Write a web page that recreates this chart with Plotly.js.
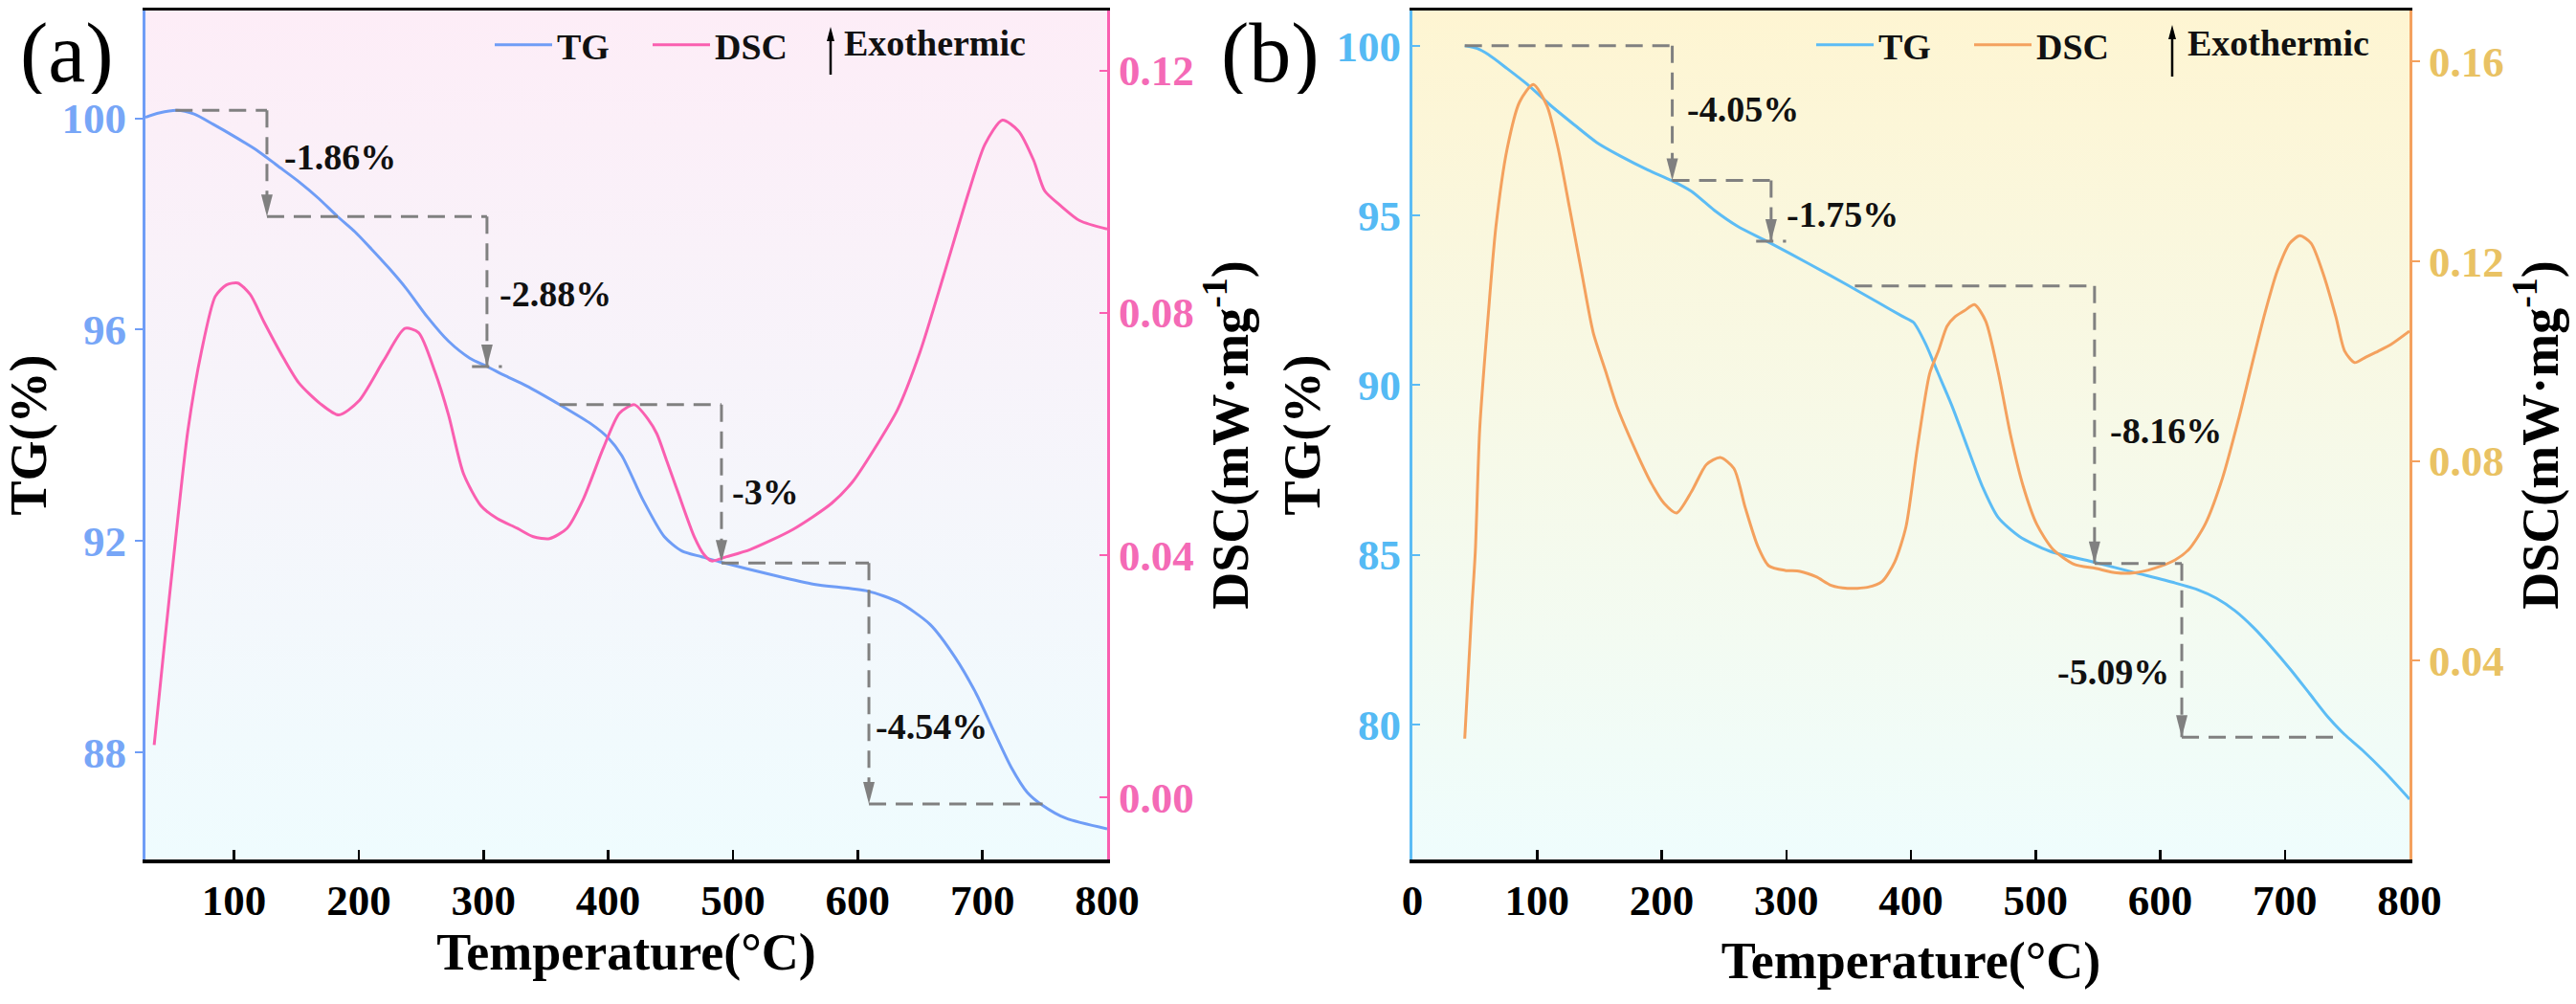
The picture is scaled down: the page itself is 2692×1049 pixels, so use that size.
<!DOCTYPE html>
<html>
<head>
<meta charset="utf-8">
<script src="https://cdn.plot.ly/plotly-3.0.1.min.js"></script>
<style>html,body{margin:0;padding:0;background:#fff;}</style>
</head>
<body>
<div id="chart" style="width:2692px;height:1049px;"></div>
<script>
// ---- panel (a) ----
var tgA_x = [29, 40, 54, 68, 83, 100, 118, 135, 152, 168, 183, 197, 210, 224, 238, 255, 272, 289, 303, 318, 334, 361, 386, 400, 411, 428, 445, 459, 475, 490, 531, 565, 608, 633, 658, 678, 695, 709, 723, 736, 748, 767, 800];
var tgA_y = [100.02, 100.10, 100.15, 100.08, 99.89, 99.66, 99.40, 99.10, 98.80, 98.48, 98.14, 97.85, 97.53, 97.17, 96.78, 96.24, 95.78, 95.46, 95.30, 95.12, 94.94, 94.58, 94.22, 93.95, 93.61, 92.77, 92.08, 91.81, 91.70, 91.60, 91.36, 91.18, 91.05, 90.84, 90.42, 89.80, 89.11, 88.41, 87.72, 87.24, 87.00, 86.75, 86.55];
var dscA_x = [36, 44, 53, 63, 74, 85, 94, 103, 113, 124, 140, 152, 169, 184, 200, 220, 237, 248, 261, 272, 284, 298, 311, 327, 340, 353, 367, 380, 396, 409, 421, 432, 439, 447, 456, 469, 477, 483, 495, 514, 548, 579, 596, 617, 632, 650, 669, 689, 702, 716, 729, 741, 750, 762, 778, 800];
var dscA_y = [0.0086, 0.0248, 0.0423, 0.0605, 0.0737, 0.0827, 0.0846, 0.0849, 0.0830, 0.0785, 0.0724, 0.0684, 0.0650, 0.0631, 0.0654, 0.0721, 0.0774, 0.0767, 0.0703, 0.0631, 0.0534, 0.0481, 0.0460, 0.0444, 0.0430, 0.0427, 0.0444, 0.0492, 0.0576, 0.0634, 0.0648, 0.0624, 0.0600, 0.0555, 0.0503, 0.0430, 0.0400, 0.0390, 0.0397, 0.0409, 0.0442, 0.0485, 0.0521, 0.0587, 0.0640, 0.0735, 0.0862, 0.0999, 0.1078, 0.1118, 0.1100, 0.1052, 0.1001, 0.0978, 0.0952, 0.0938];

// mass-loss steps (a): horizontal start, drop position, level before, level after
var stepA_from = [53, 126.4, 361, 490.8];
var stepA_drop = [126.4, 302.8, 490.8, 609];
var stepA_top = [100.15, 98.14, 94.58, 91.58];
var stepA_bot = [98.14, 95.30, 91.60, 87.02];
var stepA_endX = 748.3;
var stepA_text = ['-1.86%', '-2.88%', '-3%', '-4.54%'];
var stepA_tx = [139, 311, 498, 613];
var stepA_ty = [99.27, 96.67, 92.92, 88.48];

// ---- panel (b) ----
var tgB_x = [42, 52, 61, 76, 92, 111, 130, 148, 167, 189, 208, 224, 242, 261, 286, 318, 349, 374, 393, 402, 412, 421, 433, 443, 457, 470, 487, 511, 545, 579, 612, 630, 645, 660, 675, 690, 705, 720, 735, 748, 762, 780, 800];
var tgB_y = [100.0, 99.92, 99.74, 99.33, 98.87, 98.24, 97.67, 97.15, 96.75, 96.34, 96.03, 95.71, 95.16, 94.68, 94.21, 93.58, 92.95, 92.43, 92.03, 91.85, 91.20, 90.42, 89.38, 88.40, 87.04, 86.10, 85.54, 85.11, 84.80, 84.48, 84.17, 83.97, 83.72, 83.35, 82.85, 82.25, 81.60, 80.90, 80.20, 79.70, 79.25, 78.60, 77.80];
var dscB_x = [42, 47.5, 50.5, 54, 61, 67, 76, 86, 97, 108, 117, 126, 136, 145, 155, 164, 180, 192, 202, 212, 224, 236, 247, 258, 267, 277, 286, 299, 311, 324, 336, 349, 365, 377, 387, 396, 405, 415, 422, 429, 435, 443, 451, 460, 470, 480, 490, 501, 514, 531, 548, 565, 579, 595, 612, 623, 636, 650, 663, 673, 684, 694, 704, 712, 721, 731, 741, 748, 756, 765, 775, 785, 800];
var dscB_y = [0.0244, 0.0497, 0.0620, 0.0863, 0.1097, 0.1269, 0.1425, 0.1519, 0.1554, 0.1511, 0.1425, 0.1308, 0.1175, 0.1058, 0.0980, 0.0910, 0.0816, 0.0754, 0.0715, 0.0696, 0.0739, 0.0793, 0.0807, 0.0785, 0.0707, 0.0630, 0.0590, 0.0581, 0.0579, 0.0568, 0.0551, 0.0545, 0.0547, 0.0559, 0.0598, 0.0668, 0.0824, 0.0975, 0.1020, 0.1070, 0.1088, 0.1101, 0.1113, 0.1080, 0.0978, 0.0851, 0.0750, 0.0673, 0.0623, 0.0593, 0.0585, 0.0576, 0.0576, 0.0585, 0.0602, 0.0623, 0.0673, 0.0766, 0.0885, 0.0987, 0.1096, 0.1181, 0.1236, 0.1251, 0.1236, 0.1173, 0.1088, 0.1020, 0.0997, 0.1008, 0.1020, 0.1033, 0.1060];

var stepB_from = [42, 208.5, 355, 547.3];
var stepB_drop = [208.5, 287.8, 547.3, 617.3];
var stepB_top = [100.0, 96.03, 92.92, 84.74];
var stepB_bot = [96.03, 94.24, 84.74, 79.62];
var stepB_endX = 746.3;
var stepB_text = ['-4.05%', '-1.75%', '-8.16%', '-5.09%'];
var stepB_tx = [219, 299, 558, 609];
var stepB_ty = [98.13, 95.03, 88.66, 81.55];

var serif = '"Liberation Serif", "Times New Roman", serif';
function bold(size, color) {
  return {family: serif, size: size, color: color || '#000', weight: 'bold'};
}

var W = 2692, H = 1049;
var domA = [152 / W, 1157 / W];
var domB = [1476 / W, 2518 / W];
var domY = [1 - 898 / H, 1 - 11 / H];

var cTgA = '#6f9df6', cDscA = '#fa5fb0';
var cTgB = '#5cbcf5', cDscB = '#f4a15e';
var dashGrey = '#808080';

function gradient(top, bottom) {
  var svg = "<svg xmlns='http://www.w3.org/2000/svg' width='100' height='100' preserveAspectRatio='none'>" +
    "<defs><linearGradient id='g' x1='0' y1='0' x2='0' y2='1'>" +
    "<stop offset='0' stop-color='" + top + "'/><stop offset='1' stop-color='" + bottom + "'/>" +
    "</linearGradient></defs><rect width='100' height='100' fill='url(#g)'/></svg>";
  return 'data:image/svg+xml;charset=utf-8,' + encodeURIComponent(svg);
}

var shapes = [];
var annotations = [];

function addSteps(xref, yref, from, drop, top, bot, endX, texts, tx, ty, rightIdx) {
  var dash = {color: dashGrey, width: 3, dash: '18px,10px'};
  for (var i = 0; i < drop.length; i++) {
    shapes.push({type: 'line', xref: xref, yref: yref, x0: from[i], x1: drop[i], y0: top[i], y1: top[i], line: dash});
    shapes.push({type: 'line', xref: xref, yref: yref, x0: drop[i], x1: drop[i], y0: top[i], y1: bot[i], line: dash});
    shapes.push({type: 'path', xref: xref, yref: yref, xsizemode: 'pixel', ysizemode: 'pixel',
      xanchor: drop[i], yanchor: bot[i], path: 'M-6,23 L6,23 L0,0 Z',
      fillcolor: dashGrey, line: {width: 0}});
    annotations.push({xref: xref, yref: yref, x: tx[i], y: ty[i], text: texts[i], showarrow: false,
      xanchor: i === rightIdx ? 'right' : 'left', yanchor: 'middle', font: bold(38, '#111')});
  }
  var last = drop.length - 1;
  shapes.push({type: 'line', xref: xref, yref: yref, x0: drop[last], x1: endX, y0: bot[last], y1: bot[last], line: dash});
  // short dashed foot under the second arrow
  shapes.push({type: 'line', xref: xref, yref: yref, x0: drop[1] - 12, x1: drop[1] + 12, y0: bot[1], y1: bot[1], line: dash});
}
addSteps('x', 'y', stepA_from, stepA_drop, stepA_top, stepA_bot, stepA_endX, stepA_text, stepA_tx, stepA_ty, -1);
addSteps('x2', 'y3', stepB_from, stepB_drop, stepB_top, stepB_bot, stepB_endX, stepB_text, stepB_tx, stepB_ty, 3);

// "Exothermic" arrows
function exoArrow(px, yTop, yBot, textX) {
  shapes.push({type: 'line', xref: 'paper', yref: 'paper', x0: px / W, x1: px / W,
    y0: 1 - yBot / H, y1: 1 - (yTop + 8) / H, line: {color: '#000', width: 2.5}});
  shapes.push({type: 'path', xref: 'paper', yref: 'paper', xsizemode: 'pixel', ysizemode: 'pixel',
    xanchor: px / W, yanchor: 1 - yTop / H, path: 'M-4,-15 L4,-15 L0,0 Z', fillcolor: '#000', line: {width: 0}});
  annotations.push({xref: 'paper', yref: 'paper', x: textX / W, y: 1 - 45 / H, text: 'Exothermic',
    showarrow: false, xanchor: 'left', yanchor: 'middle', font: bold(38, '#111')});
}
exoArrow(868, 28, 78, 880);
exoArrow(2270, 26, 80, 2284);

annotations.push({xref: 'paper', yref: 'paper', x: 70 / W, y: 1 - 55 / H, text: '(a)', showarrow: false, height: 86,
  xanchor: 'center', yanchor: 'middle', font: {family: serif, size: 88, color: '#000'}});
annotations.push({xref: 'paper', yref: 'paper', x: 1327 / W, y: 1 - 55 / H, text: '(b)', showarrow: false, height: 86,
  xanchor: 'center', yanchor: 'middle', font: {family: serif, size: 88, color: '#000'}});

var spline = {shape: 'spline', smoothing: 0.7};
var traces = [
  {x: tgA_x, y: tgA_y, xaxis: 'x', yaxis: 'y', type: 'scatter', mode: 'lines', name: 'TG',
    line: Object.assign({color: cTgA, width: 3}, spline), legend: 'legend'},
  {x: dscA_x, y: dscA_y, xaxis: 'x', yaxis: 'y2', type: 'scatter', mode: 'lines', name: 'DSC',
    line: Object.assign({color: cDscA, width: 3}, spline), legend: 'legend'},
  {x: tgB_x, y: tgB_y, xaxis: 'x2', yaxis: 'y3', type: 'scatter', mode: 'lines', name: 'TG',
    line: Object.assign({color: cTgB, width: 3}, spline), legend: 'legend2'},
  {x: dscB_x, y: dscB_y, xaxis: 'x2', yaxis: 'y4', type: 'scatter', mode: 'lines', name: 'DSC',
    line: Object.assign({color: cDscB, width: 3}, spline), legend: 'legend2'}
];

function xAxis(domain, range, anchor, standoff) {
  return {domain: domain, range: range, anchor: anchor, showline: true, linecolor: '#000', linewidth: 3.5,
    mirror: true, ticks: 'inside', ticklen: 10, tickwidth: 2.5, tickcolor: '#000', tick0: 0, dtick: 100,
    tickfont: bold(45), showgrid: false, zeroline: false,
    title: {text: 'Temperature(°C)', font: bold(54), standoff: standoff}};
}
function leftAxis(range, anchor, color, tickColor, dtick, tickDir, standoff) {
  return {domain: domY, range: range, anchor: anchor, showline: true, linecolor: color, linewidth: 3,
    ticks: tickDir, ticklen: 8, tickwidth: 2, tickcolor: color, tick0: 0, dtick: dtick,
    tickfont: bold(45, tickColor), showgrid: false, zeroline: false,
    title: {text: 'TG(%)', font: bold(54), standoff: standoff}};
}
function rightAxis(range, anchor, over, color, tickColor, tickDir, standoff) {
  return {range: range, anchor: anchor, overlaying: over, side: 'right', showline: true, linecolor: color,
    linewidth: 3, ticks: tickDir, ticklen: 8, tickwidth: 2, tickcolor: color, tick0: 0, dtick: 0.04,
    tickformat: '.2f', tickfont: bold(45, tickColor), showgrid: false, zeroline: false,
    title: {text: 'DSC(mW·mg<sup>-1</sup>)', font: bold(54), standoff: standoff}};
}

var legendBase = {orientation: 'h', xanchor: 'left', yanchor: 'middle', y: 1 - 47 / H,
  bgcolor: 'rgba(0,0,0,0)', font: bold(38, '#111'), itemwidth: 60, entrywidth: 90};

var layout = {
  width: W, height: H,
  margin: {l: 0, r: 0, t: 0, b: 0, pad: 0},
  paper_bgcolor: '#fff', plot_bgcolor: 'rgba(0,0,0,0)',
  showlegend: true,
  xaxis: xAxis(domA, [29, 800], 'y', 4),
  yaxis: leftAxis([85.97, 102.04], 'x', cTgA, '#77a6f7', 4, 'outside', 8),
  yaxis2: rightAxis([-0.0103, 0.1299], 'x', 'y', cDscA, '#f46ab6', 'inside', 9),
  xaxis2: xAxis(domB, [0, 800], 'y3', 20),
  yaxis3: leftAxis([76.02, 101.04], 'x2', cTgB, '#55baf4', 5, 'inside', 0),
  yaxis4: rightAxis([0.0002, 0.1702], 'x2', 'y3', cDscB, '#e9c263', 'outside', 0),
  legend: Object.assign({}, legendBase, {x: 512 / W}),
  legend2: Object.assign({}, legendBase, {x: 1893 / W}),
  images: [
    {source: gradient('#fdedf7', '#effcfe'), xref: 'paper', yref: 'paper', x: domA[0], y: domY[1],
      sizex: domA[1] - domA[0], sizey: domY[1] - domY[0], sizing: 'stretch', xanchor: 'left', yanchor: 'top', layer: 'below'},
    {source: gradient('#fef5d2', '#effdfd'), xref: 'paper', yref: 'paper', x: domB[0], y: domY[1],
      sizex: domB[1] - domB[0], sizey: domY[1] - domY[0], sizing: 'stretch', xanchor: 'left', yanchor: 'top', layer: 'below'}
  ],
  shapes: shapes,
  annotations: annotations
};

Plotly.newPlot('chart', traces, layout, {displayModeBar: false, staticPlot: true});
</script>
</body>
</html>
